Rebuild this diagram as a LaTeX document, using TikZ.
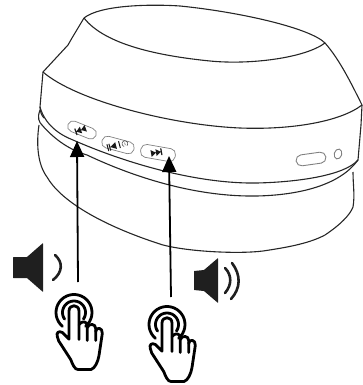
\documentclass[tikz,border=0pt]{standalone}
\usetikzlibrary{arrows.meta,shapes.geometric}
\tikzset{
 outl/.style={line width=1.1pt,black!85,line join=round},
 btn/.style={line width=.7pt,black!50,rounded corners=5.4pt,draw,fill=white,inner sep=0,minimum height=11pt},
 arr/.style={line width=1.8pt,black,-{Triangle[length=16pt,width=14pt]},shorten >=-1pt},
 spk/.style={fill=black!88,draw=none,rounded corners=.5pt},
 wave/.style={line width=2.6pt,black!88,line cap=round},
 ico/.style={fill=black!90,draw=none},
 hnd/.style={line width=2.8pt,black,line cap=round,line join=round}}
\newcommand{\handicon}[1]{%
\begin{scope}[shift={#1}]
 \draw[hnd] plot[smooth,domain=130:410,samples=30] ({18*cos(\x)},{18*sin(\x)});
 \draw[hnd] plot[smooth,domain=145:395,samples=30] ({11.5*cos(\x)},{11.5*sin(\x)});
 \draw[hnd] (5,27) -- (5,-1.5) .. controls (5,-8.5) and (-5,-8.5) .. (-5,-1.5) -- (-5,26.7)
  -- (-11.7,20) .. controls (-15,18) and (-18,20) .. (-16.7,24) .. controls (-16,27) and (-15,30) .. (-13,32)
  -- (-3.3,47) .. controls (-1,53) and (1,57) .. (4,57) -- (17,57) .. controls (21,56) and (24,49) .. (25,43)
  -- (28.3,21) .. controls (29,15) and (22,14) .. (21.7,19);
 \draw[hnd] (5,12) .. controls (8,8) and (13.3,8.5) .. (13.3,13.5) -- (13.3,28);
 \draw[hnd] (13.3,15) .. controls (15,10.5) and (21.7,11) .. (21.7,16) -- (21.7,28);
\end{scope}}
\begin{document}
\begin{tikzpicture}[x=1pt,y=-1pt]
\useasboundingbox (0,0) rectangle (363,385);
% top ellipse
\draw[outl] (84,18) .. controls (100,5) and (150,4) .. (180,6) .. controls (240,12) and (310,28) .. (325,43)
 .. controls (305,58) and (250,65) .. (210,61) .. controls (160,56) and (105,45) .. (84,18);
% silhouette
\draw[outl] (84,18) -- (72,38) -- (68,45) -- (43,72) -- (40,107) .. controls (40,112) and (42,116) .. (44,118);
\draw[outl] (325,43) .. controls (340,60) and (352,85) .. (362,105) -- (361,125) -- (358,160);
\draw[outl] (43,72) .. controls (75,100) and (170,125) .. (240,128) .. controls (290,130) and (340,122) .. (362,105);
\draw[outl] (40,107) .. controls (45,125) and (60,135) .. (73,140) .. controls (130,165) and (200,184) .. (257,183)
 .. controls (300,182) and (345,175) .. (358,160);
\draw[outl] (40,110) .. controls (37,118) and (39,122) .. (42,125) .. controls (55,140) and (70,150) .. (87,155) .. controls (140,180) and (200,197) .. (257,196)
 .. controls (300,195) and (340,185) .. (358,160);
% lower body
\draw[outl] (39,125) .. controls (36,145) and (38,165) .. (47,177) .. controls (60,200) and (100,225) .. (163,245)
 .. controls (190,252) and (240,254) .. (263,251) .. controls (290,247) and (310,243) .. (325,235)
 .. controls (340,225) and (350,215) .. (353,207) .. controls (355,195) and (353,185) .. (353,172);
% buttons
\node[btn,rotate=-22,minimum width=30pt] (b1) at (82,130) {};
\node[btn,rotate=-15,minimum width=33pt,minimum height=12pt] (b2) at (118,145) {};
\node[btn,rotate=-10,minimum width=35pt,minimum height=13pt] (b3) at (158,153) {};
\node[btn,rotate=8,minimum width=30pt,minimum height=11pt,line width=.9pt] (b4) at (311,159) {};
\node[draw,black!50,fill=white,inner sep=0,ellipse,line width=.9pt,minimum width=7.5pt,minimum height=10pt,rotate=-15] (b5) at (338,154) {};
% button glyphs
\begin{scope}[shift={(81,130)},rotate=20]
 \fill[ico] (-6,-3.4) rectangle (-4.8,3.4) (-5,0)--(0,-3.5)--(0,3.5)--cycle (0,0)--(5,-3.5)--(5,3.5)--cycle;
\end{scope}
\begin{scope}[shift={(118,145)},rotate=15]
 \fill[ico] (-11,-3.5) rectangle (-10,3.5) (-9,-3.5) rectangle (-8,3.5) (-8,0)--(-2,-3.5)--(-2,3.5)--cycle (1,-3.5) rectangle (2,3.5);
 \draw[line width=.6pt,black!70] plot[smooth,domain=-60:240,samples=16] ({7+2.8*cos(\x)},{.5-2.8*sin(\x)});
 \draw[line width=.5pt,black!70] (7,-.5)--(7,2);
\end{scope}
\begin{scope}[shift={(157,152.5)},rotate=10]
 \fill[ico] (-6,-3.5)--(-1,0)--(-6,3.5)--cycle (-1,-3.5)--(4,0)--(-1,3.5)--cycle (3.8,-3.4) rectangle (5,3.4);
\end{scope}
% arrows
\coordinate (a1) at (78,282); \coordinate (a2) at (171,297);
\coordinate (t1) at (77,142); \coordinate (t2) at (169,157);
\draw[arr] (a1) -- (t1);
\draw[arr] (a2) -- (t2);
% speakers
\fill[spk] (13,257) -- (27,257) -- (43,243) -- (43,292) -- (27,278) -- (13,278) -- cycle;
\draw[wave] (55,255) .. controls (63,262) and (63,272) .. (53,280);
\fill[spk] (194,271) -- (204,270) -- (218,258) -- (218,303) -- (204,291) -- (194,290) -- cycle;
\draw[wave] (225,268) .. controls (232,275) and (232,285) .. (225,293);
\draw[wave] (232,263) .. controls (241,275) and (241,288) .. (231,299);
% hands
\handicon{(74,312.5)}
\handicon{(167,324.5)}
\end{tikzpicture}
\end{document}
